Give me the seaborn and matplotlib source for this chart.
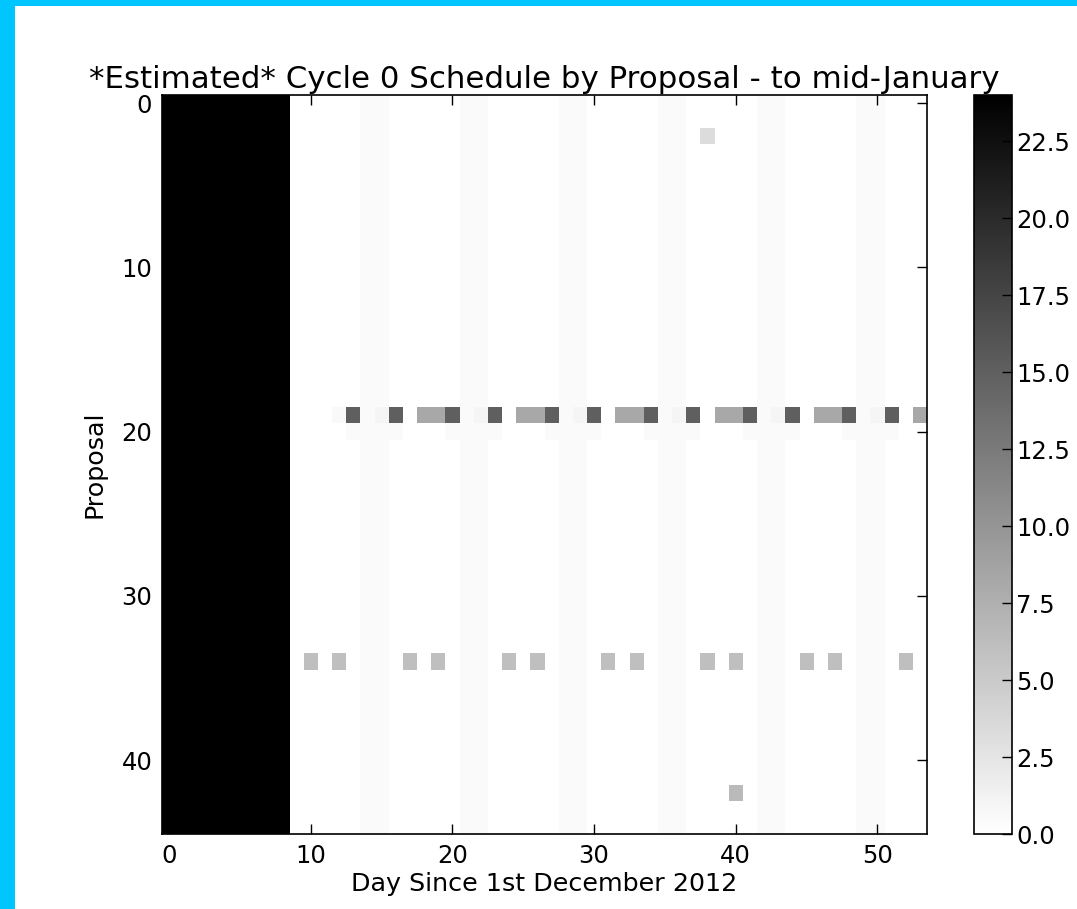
import numpy as np
import pandas as pd
import matplotlib
matplotlib.use("Agg")
import matplotlib.pyplot as plt
from matplotlib.patches import Rectangle
import seaborn as sns

# ---- data ----
n_days = 54
n_proposals = 45
blocked_days = [0, 1, 2, 3, 4, 5, 6, 7, 8]
blocked_value = 24.0
weekend_days = [14, 15, 21, 22, 28, 29, 35, 36, 42, 43, 49, 50]
weekend_value = 0.5

p19_dark_days = [13, 16, 20, 23, 27, 30, 34, 37, 41, 44, 48, 51]
p19_dark_value = 15.0
p19_gray_days = [18, 19, 25, 26, 32, 33, 39, 40, 46, 47, 53]
p19_gray_value = 8.2
p19_faint_days = [12, 15, 22, 29, 36, 43, 50]
p19_faint_values = [0.6, 1.0, 1.0, 1.0, 1.0, 1.0, 1.0]
p20_faint_days = [13, 16, 20, 23, 27, 30, 34, 37, 41, 44, 48, 51]
p20_faint_value = 0.5

p34_days = [10, 12, 17, 19, 24, 26, 31, 33, 38, 40, 45, 47, 52]
p34_value = 6.0
p2_days = [38]
p2_value = 3.3
p42_days = [40]
p42_value = 6.5

x_ticks = [0, 10, 20, 30, 40, 50]
y_ticks = [0, 10, 20, 30, 40]
cbar_ticks = [0.0, 2.5, 5.0, 7.5, 10.0, 12.5, 15.0, 17.5, 20.0, 22.5]

# ---- build table ----
grid = np.zeros((n_proposals, n_days))
grid[:, weekend_days] = weekend_value
grid[:, blocked_days] = blocked_value
grid[19, p19_dark_days] = p19_dark_value
grid[19, p19_gray_days] = p19_gray_value
for d, v in zip(p19_faint_days, p19_faint_values):
    grid[19, d] = v
grid[20, p20_faint_days] = p20_faint_value
grid[34, p34_days] = p34_value
grid[2, p2_days] = p2_value
grid[42, p42_days] = p42_value
df = pd.DataFrame(grid, index=range(n_proposals), columns=range(n_days))

# ---- figure ----
plt.rcParams['font.family'] = ['DejaVu Sans']
W, H = 1077, 909
fig = plt.figure(figsize=(W / 100, H / 100), dpi=100)
fig.patch.set_facecolor('#00c6ff')
fig.add_artist(Rectangle((15 / W, 0), 1 - 15 / W, 1 - 6 / H,
                         transform=fig.transFigure, facecolor='white',
                         edgecolor='none', zorder=-10))

ax_l, ax_r, ax_t, ax_b = 162, 927, 95, 834
ax = fig.add_axes([ax_l / W, 1 - ax_b / H, (ax_r - ax_l) / W, (ax_b - ax_t) / H])
cax = fig.add_axes([974 / W, 1 - ax_b / H, 38 / W, (ax_b - ax_t) / H])

sns.heatmap(df, cmap='gray_r', vmin=0, vmax=24, ax=ax, cbar_ax=cax,
            xticklabels=False, yticklabels=False,
            cbar_kws=dict(ticks=cbar_ticks, format='%.1f'))

fs_tick = 17.5
fs_label = 18.3
fs_title = 22.2
ax.set_xticks([t + 0.5 for t in x_ticks])
ax.set_xticklabels([str(t) for t in x_ticks])
ax.set_yticks([t + 0.5 for t in y_ticks])
ax.set_yticklabels([str(t) for t in y_ticks], rotation=0)
ax.tick_params(direction='in', top=True, right=True, bottom=True, left=True,
               length=7, width=1, labelsize=fs_tick, pad=7, color='black')
for s in ax.spines.values():
    s.set_visible(True)
    s.set_color('black')
    s.set_linewidth(1.2)

ax.set_title('*Estimated* Cycle 0 Schedule by Proposal - to mid-January',
             fontsize=fs_title, pad=5)
ax.set_xlabel('Day Since 1st December 2012', fontsize=fs_label, labelpad=3)
ax.set_ylabel('Proposal', fontsize=fs_label, labelpad=11)

cax.tick_params(direction='in', length=7, width=1, labelsize=fs_tick, pad=3, color='black')
cbar = ax.collections[0].colorbar
cbar.outline.set_visible(True)
cbar.outline.set_linewidth(1.2)
cbar.outline.set_edgecolor('black')

fig.savefig('out.png', dpi=100, facecolor=fig.get_facecolor())
